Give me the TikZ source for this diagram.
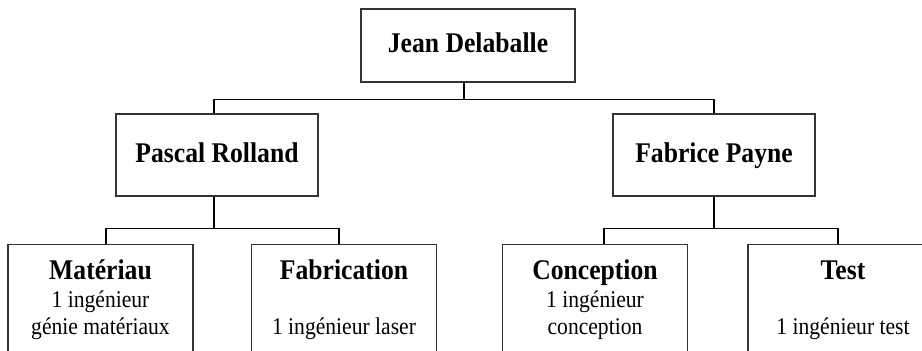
\documentclass[tikz,border=0pt]{standalone}
\usepackage{fontspec}
\setmainfont{Liberation Serif}[FakeStretch=0.9]
\usepackage{tikz}
\usetikzlibrary{positioning}
\usepackage{xcolor}

\tikzset{
  chef/.style={draw=black!80,line width=1.1pt,fill=white,align=center,
    text height=21pt,text depth=7pt,font=\fontsize{28.5}{30}\selectfont\bfseries},
  team/.style={draw=black!80,line width=1.1pt,fill=white,align=center,anchor=north,
    minimum width=185pt,minimum height=112pt,font=\fontsize{24}{27.5}\selectfont},
  link/.style={draw=black,line width=1.6pt}
}
\newcommand{\teamname}[1]{{\rule{0pt}{22pt}\fontsize{28.5}{27.5}\selectfont\bfseries #1}}

\begin{document}
\begin{tikzpicture}[x=1pt,y=1pt]
  \useasboundingbox (0,0) rectangle (922,-351);
  \clip (0,0) rectangle (922,-351);

  \node[chef,minimum width=214pt,minimum height=73pt] (JeDe) at (468,-45.5) {Jean Delaballe};

  \node[chef,minimum width=202pt,minimum height=82pt] (PaRo) at (217,-155) {Pascal Rolland};
  \node[chef,minimum width=202pt,minimum height=82pt] (FaPa) at (714,-155) {Fabrice Payne};

  % %teams
  \node[team] (Ma) at (100.5,-244) {\teamname{Matériau}\\1 ingénieur\\génie matériaux\strut};
  \node[team] (Fa) at (344,-244) {\teamname{Fabrication}\\ \\1 ingénieur laser\strut};
  \node[team] (Co) at (595,-244) {\teamname{Conception}\\1 ingénieur\\conception\strut};
  \node[team,minimum width=190pt] (Te) at (843,-244) {\teamname{Test}\\ \\1 ingénieur test\strut};

  \draw[link] ([xshift=-4pt]JeDe.south) -- ++(0,-17) -| ([xshift=-3pt]PaRo.north);
  \draw[link] ([xshift=-4pt]JeDe.south) -- ++(0,-17) -| (FaPa.north);

  \draw[link] ([xshift=-3pt]PaRo.south) -- ++(0,-32) -| ([xshift=5.5pt]Ma.north);
  \draw[link] ([xshift=-3pt]PaRo.south) -- ++(0,-32) -| ([xshift=-5pt]Fa.north);
  \draw[link] (FaPa.south) -- ++(0,-32) -| ([xshift=9pt]Co.north);
  \draw[link] (FaPa.south) -- ++(0,-32) -| ([xshift=-5pt]Te.north);

\end{tikzpicture}
\end{document}
